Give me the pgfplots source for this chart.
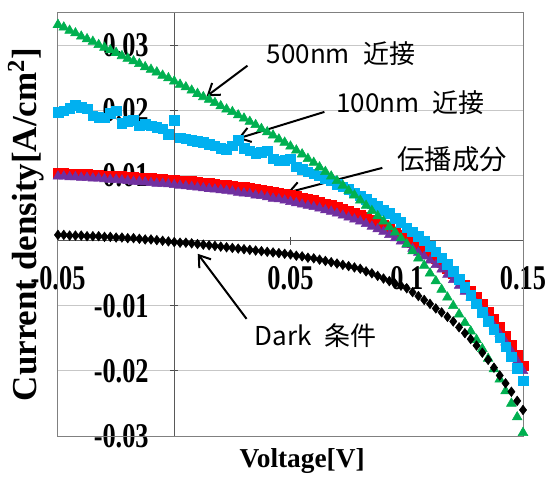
\documentclass[border=0pt]{standalone}
\usepackage{fontspec}
\setmainfont{Liberation Serif}
\newfontfamily\cjk{Noto Sans CJK JP}
\newfontfamily\tickfont{Liberation Serif}[FakeStretch=0.76]
\usepackage{pgfplots}
\pgfplotsset{compat=1.18}
\usepackage{pgfplotstable}
\usetikzlibrary{arrows.meta}
\definecolor{cgreen}{RGB}{0,176,80}
\definecolor{cblue}{RGB}{0,176,240}
\definecolor{cred}{RGB}{255,0,0}
\definecolor{cpurple}{RGB}{112,48,160}
\definecolor{cblack}{RGB}{0,0,0}
\pgfplotsset{layers/mylayers/.define layer set={axis background,axis grid,axis ticks,axis lines,main,axis tick labels,axis descriptions,axis foreground}{}}

\pgfplotstableread{
V       G       B       R       P       K
-0.0500 0.0332 0.0197 0.0104 0.0099 0.0009
-0.0475 0.0328 0.0200 0.0104 0.0099 0.0009
-0.0450 0.0323 0.0204 0.0103 0.0098 0.0008
-0.0425 0.0319 0.0208 0.0103 0.0098 0.0008
-0.0400 0.0314 0.0205 0.0102 0.0097 0.0008
-0.0375 0.0310 0.0203 0.0102 0.0097 0.0007
-0.0350 0.0306 0.0192 0.0101 0.0096 0.0007
-0.0325 0.0301 0.0190 0.0101 0.0096 0.0007
-0.0300 0.0297 0.0189 0.0100 0.0095 0.0006
-0.0275 0.0293 0.0196 0.0100 0.0094 0.0006
-0.0250 0.0289 0.0200 0.0099 0.0094 0.0005
-0.0225 0.0284 0.0181 0.0099 0.0093 0.0005
-0.0200 0.0280 0.0184 0.0098 0.0092 0.0004
-0.0175 0.0276 0.0185 0.0098 0.0091 0.0004
-0.0150 0.0272 0.0177 0.0097 0.0091 0.0003
-0.0125 0.0267 0.0179 0.0097 0.0090 0.0002
-0.0100 0.0263 0.0177 0.0096 0.0089 0.0002
-0.0075 0.0259 0.0174 0.0095 0.0088 0.0001
-0.0050 0.0254 0.0172 0.0095 0.0088 0.0000
-0.0025 0.0250 0.0164 0.0094 0.0087 -0.0001
0.0000 0.0245 0.0185 0.0093 0.0086 -0.0002
0.0025 0.0240 0.0158 0.0092 0.0085 -0.0003
0.0050 0.0236 0.0157 0.0092 0.0084 -0.0003
0.0075 0.0231 0.0154 0.0091 0.0083 -0.0004
0.0100 0.0226 0.0153 0.0090 0.0082 -0.0005
0.0125 0.0221 0.0151 0.0089 0.0081 -0.0006
0.0150 0.0217 0.0148 0.0088 0.0080 -0.0007
0.0175 0.0212 0.0146 0.0087 0.0079 -0.0008
0.0200 0.0207 0.0142 0.0086 0.0078 -0.0009
0.0225 0.0202 0.0141 0.0085 0.0077 -0.0010
0.0250 0.0198 0.0146 0.0084 0.0076 -0.0011
0.0275 0.0193 0.0154 0.0083 0.0074 -0.0012
0.0300 0.0188 0.0142 0.0082 0.0073 -0.0013
0.0325 0.0183 0.0138 0.0081 0.0072 -0.0014
0.0350 0.0178 0.0134 0.0080 0.0070 -0.0015
0.0375 0.0172 0.0136 0.0078 0.0069 -0.0016
0.0400 0.0167 0.0138 0.0077 0.0067 -0.0017
0.0425 0.0162 0.0126 0.0075 0.0065 -0.0018
0.0450 0.0156 0.0123 0.0074 0.0064 -0.0019
0.0475 0.0151 0.0124 0.0072 0.0062 -0.0020
0.0500 0.0145 0.0126 0.0070 0.0060 -0.0021
0.0525 0.0139 0.0114 0.0068 0.0058 -0.0023
0.0550 0.0133 0.0110 0.0066 0.0056 -0.0024
0.0575 0.0126 0.0106 0.0064 0.0054 -0.0026
0.0600 0.0120 0.0103 0.0062 0.0052 -0.0027
0.0625 0.0113 0.0100 0.0060 0.0050 -0.0029
0.0650 0.0106 0.0096 0.0057 0.0047 -0.0031
0.0675 0.0099 0.0092 0.0055 0.0045 -0.0033
0.0700 0.0092 0.0087 0.0052 0.0042 -0.0035
0.0725 0.0085 0.0083 0.0049 0.0039 -0.0037
0.0750 0.0077 0.0079 0.0046 0.0036 -0.0039
0.0775 0.0070 0.0074 0.0043 0.0033 -0.0041
0.0800 0.0062 0.0069 0.0040 0.0030 -0.0043
0.0825 0.0054 0.0064 0.0036 0.0026 -0.0047
0.0850 0.0046 0.0058 0.0032 0.0022 -0.0050
0.0875 0.0038 0.0053 0.0028 0.0018 -0.0054
0.0900 0.0030 0.0047 0.0024 0.0014 -0.0058
0.0925 0.0021 0.0042 0.0019 0.0009 -0.0062
0.0950 0.0013 0.0035 0.0014 0.0004 -0.0066
0.0975 0.0004 0.0028 0.0009 -0.0001 -0.0069
0.1000 -0.0005 0.0020 0.0004 -0.0006 -0.0073
0.1025 -0.0016 0.0014 -0.0002 -0.0012 -0.0079
0.1050 -0.0027 0.0007 -0.0008 -0.0018 -0.0085
0.1075 -0.0038 0.0000 -0.0014 -0.0024 -0.0091
0.1100 -0.0050 -0.0008 -0.0020 -0.0030 -0.0097
0.1125 -0.0062 -0.0017 -0.0027 -0.0037 -0.0104
0.1150 -0.0075 -0.0026 -0.0034 -0.0044 -0.0110
0.1175 -0.0087 -0.0036 -0.0042 -0.0052 -0.0117
0.1200 -0.0100 -0.0047 -0.0050 -0.0060 -0.0124
0.1225 -0.0113 -0.0059 -0.0059 -0.0069 -0.0133
0.1250 -0.0126 -0.0071 -0.0068 -0.0078 -0.0142
0.1275 -0.0139 -0.0084 -0.0077 -0.0087 -0.0151
0.1300 -0.0152 -0.0097 -0.0087 -0.0097 -0.0161
0.1325 -0.0166 -0.0110 -0.0098 -0.0108 -0.0172
0.1350 -0.0181 -0.0124 -0.0109 -0.0119 -0.0183
0.1375 -0.0197 -0.0136 -0.0121 -0.0131 -0.0195
0.1400 -0.0213 -0.0149 -0.0133 -0.0143 -0.0207
0.1425 -0.0231 -0.0163 -0.0146 -0.0156 -0.0219
0.1450 -0.0250 -0.0178 -0.0160 -0.0170 -0.0232
0.1475 -0.0271 -0.0196 -0.0176 -0.0185 -0.0246
0.1500 -0.0295 -0.0215 -0.0192 -0.0200 -0.0260
}\datatable

\begin{document}
\begin{tikzpicture}
\begin{axis}[
  set layers=mylayers,
  scale only axis,
  width=348.75pt, height=317.25pt,
  xmin=-0.05, xmax=0.15, ymin=-0.03, ymax=0.035,
  clip=false,
  axis lines=middle,
  axis line style={-, draw=black!65, line width=0.75pt},
  xtick={-0.05,0,0.05,0.1,0.15},
  ytick={-0.03,-0.02,-0.01,0,0.01,0.02,0.03},
  scaled ticks=false,
  /pgf/number format/fixed,
  /pgf/number format/precision=2,
  /pgf/number format/assume math mode=true,
  tick label style={font=\tickfont\bfseries\fontsize{26}{26}\selectfont},
  xticklabel style={anchor=north, inner sep=0pt, yshift=-16pt},
  yticklabel style={anchor=east, inner sep=0pt, xshift=-16pt},
  major tick length=6pt,
  tick align=center,
  tick style={black!70, line width=0.75pt},
  ymajorgrids,
  major grid style={draw=black!22, line width=0.75pt},
  xlabel={Voltage[V]},
  ylabel={Current density[A/cm\textsuperscript{2}]},
  x label style={at={(axis description cs:0.525,-0.028)}, anchor=north, inner sep=0pt,
    font=\bfseries\fontsize{20.5}{20.5}\selectfont},
  y label style={at={(axis description cs:-0.03,0.5)}, anchor=south, rotate=90, inner sep=0pt,
    font=\bfseries\fontsize{26.25}{26.25}\selectfont},
]
\draw[black!50, line width=0.75pt] (rel axis cs:0,0) rectangle (rel axis cs:1,1);
\addplot[only marks, mark=square*, mark size=3.6pt, color=cred] table[x=V, y=R] {\datatable};
\addplot[only marks, mark=triangle*, mark size=4.2pt, color=cpurple] table[x=V, y=P] {\datatable};
\addplot[only marks, mark=square*, mark size=3.6pt, color=cblue] table[x=V, y=B] {\datatable};
\addplot[only marks, mark=triangle*, mark size=4.2pt, color=cgreen] table[x=V, y=G] {\datatable};
\addplot[only marks, mark=diamond*, mark size=3.6pt, color=cblack] table[x=V, y=K] {\datatable};

\node[anchor=west, inner sep=0pt, font=\cjk\fontsize{19.5}{19.5}\selectfont] at (axis cs:0.0397,0.0288) {500nm\hspace{0.5em}近接};
\draw[line width=1.5pt, -{Straight Barb[length=8pt,width=11pt]}] (axis cs:0.0315,0.0269) -- (axis cs:0.0139,0.0222);
\node[anchor=west, inner sep=0pt, font=\cjk\fontsize{19.5}{19.5}\selectfont] at (axis cs:0.0697,0.0212) {100nm\hspace{0.5em}近接};
\draw[line width=1.5pt, -{Straight Barb[length=8pt,width=11pt]}] (axis cs:0.0646,0.0198) -- (axis cs:0.0273,0.0157);
\node[anchor=west, inner sep=0pt, font=\cjk\fontsize{20.5}{20.5}\selectfont] at (axis cs:0.0959,0.0125) {伝播成分};
\draw[line width=1.5pt, -{Straight Barb[length=8pt,width=11pt]}] (axis cs:0.0895,0.0112) -- (axis cs:0.0487,0.0074);
\node[anchor=west, inner sep=0pt, font=\cjk\fontsize{19.5}{19.5}\selectfont] at (axis cs:0.0345,-0.0146) {Dark\hspace{0.5em}条件};
\draw[line width=1.5pt, -{Straight Barb[length=8pt,width=11pt]}] (axis cs:0.0311,-0.0120) -- (axis cs:0.0101,-0.0020);

\coordinate (bbA) at (rel axis cs:-0.1247,-0.0969);
\coordinate (bbB) at (rel axis cs:1.0516,1.0307);
\end{axis}
\pgfresetboundingbox
\path (bbA) rectangle (bbB);
\end{tikzpicture}
\end{document}
